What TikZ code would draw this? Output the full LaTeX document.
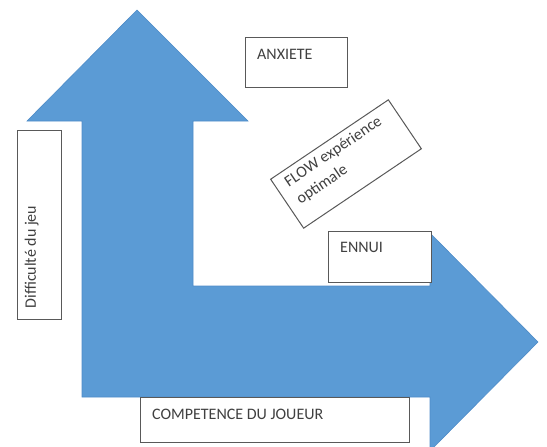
\documentclass[tikz,border=0pt]{standalone}
\usepackage{fontspec}
\setmainfont{Carlito}
\definecolor{arrowblue}{HTML}{5B9BD5}
\definecolor{arrowedge}{HTML}{4F8CC8}
\definecolor{boxedge}{HTML}{595959}
\definecolor{labeltext}{HTML}{404040}
\begin{document}
\begin{tikzpicture}[x=1pt,y=-1pt,
	framebox/.style={draw=boxedge, line width=1pt, fill=white, inner sep=0pt},
	boxlabel/.style={anchor=north west, inner xsep=12pt, inner ysep=12pt, text=labeltext, font=\fontsize{16}{21}\selectfont, align=left}]
	\useasboundingbox (0,0) rectangle (547,447);
	% the L-shaped double arrow
	\begin{scope}
		\clip (0,0) rectangle (547,447);
		\filldraw[fill=arrowblue, draw=arrowedge, line width=0.6pt] (137,10) -- (248,121) -- (193,121) -- (193,286) -- (430,286) -- (430,233) -- (538,342) -- (430,451) -- (430,397) -- (82,397) -- (82,121) -- (27,121) -- cycle;
	\end{scope}
	% boxes
	\node[framebox, anchor=north west, minimum width=102pt, minimum height=50pt] (anxiete) at (245,37) {};
	\node[boxlabel] (anxietetext) at (anxiete.north west) {ANXIETE};
	\node[framebox, rotate=34, minimum width=142pt, minimum height=59pt] (flow) at (346,164) {};
	\node[boxlabel, rotate=34, inner xsep=11pt, inner ysep=6pt] (flowtext) at (flow.north west) {FLOW expérience\\optimale};
	\node[framebox, anchor=north west, minimum width=103pt, minimum height=51pt] (ennui) at (328,231) {};
	\node[boxlabel, inner ysep=11pt] (ennuitext) at (ennui.north west) {ENNUI};
	\node[framebox, rotate=90, minimum width=189pt, minimum height=44pt] (difficulte) at (39,224.5) {};
	\node[boxlabel, rotate=90, inner xsep=11pt, inner ysep=8pt] (difficultetext) at (difficulte.north west) {Difficulté du jeu};
	\node[framebox, anchor=north west, minimum width=269pt, minimum height=45pt] (competence) at (140,397) {};
	\node[boxlabel] (competencetext) at (competence.north west) {COMPETENCE DU JOUEUR};
\end{tikzpicture}
\end{document}
